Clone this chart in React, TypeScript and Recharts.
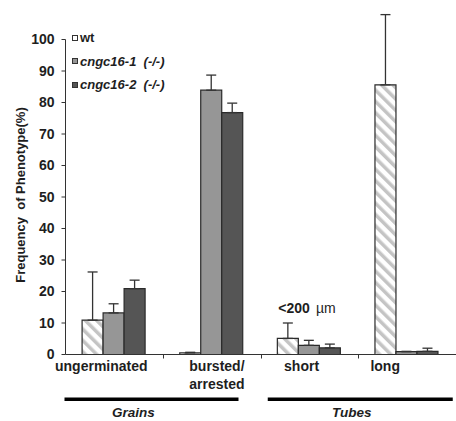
import React from 'react';
import { BarChart, Bar, XAxis, YAxis, ErrorBar, LabelList, Label, Legend, ReferenceLine } from 'recharts';

// values (% of pollen grains / tubes)
const categories = ['ungerminated', 'bursted/\narrested', 'short', 'long'];
const wtValues = [10.9, 0.5, 5.1, 85.6];
const wtErrors = [15.3, 0.2, 4.9, 22.3];
const cngc1Values = [13.2, 83.9, 2.9, 0.9];
const cngc1Errors = [2.9, 4.8, 1.6, 0.1];
const cngc2Values = [20.9, 76.8, 2.1, 1.0];
const cngc2Errors = [2.7, 3.0, 1.2, 1.0];
const notes = ['', '', '<200 µm', ''];
const yTicks = [0, 10, 20, 30, 40, 50, 60, 70, 80, 90, 100];
const seriesNames = ['wt', 'cngc16-1  (-/-)', 'cngc16-2  (-/-)'];
const groupNames = ['Grains', 'Tubes'];
const groupFirst = [0, 2];

const data = categories.map((category, i) => ({
  category,
  wt: wtValues[i],
  wtErr: [0, wtErrors[i]],
  cngc1: cngc1Values[i],
  cngc1Err: [0, cngc1Errors[i]],
  cngc2: cngc2Values[i],
  cngc2Err: [0, cngc2Errors[i]],
  note: notes[i],
}));

const FONT = '"Liberation Sans", Arial, sans-serif';
const INK = '#1e1e1e';
const AXIS = '#333';
const CHART_W = 456;
const CHART_H = 420;
const TOP = 8;
const LEFT = 0.5; // half pixel so the 1px axis lines stay crisp
const X_H = 65.5;
const Y_W = 65;
const BAND = (CHART_W - Y_W - LEFT) / categories.length;
const LABEL_SHIFT = [-13, 5, -8, -22];
const GROUP_SPANS = [
  { x0: -1, x1: 173, label: 68 },
  { x0: 7, x1: 192, label: 91 },
];
const swatches = ['#fff', '#969696', '#555'];

const XTick = (props: any) => {
  const { x, y, payload } = props;
  const idx = payload.index;
  const lines = String(payload.value).split('\n');
  const tx = x + LABEL_SHIFT[idx];
  const g = groupFirst.indexOf(idx);
  const left = x - BAND / 2;
  const edge = Math.round(x + BAND / 2) + 0.5;
  return (
    <g>
      <line x1={edge} x2={edge} y1={y} y2={y + 4} stroke={AXIS} />
      <text x={tx} y={y + 16} textAnchor="middle" fontSize={14} fontWeight="bold" fill={INK} fontFamily={FONT}>
        {lines.map((l, i) => (
          <tspan key={i} x={tx} dy={i === 0 ? 0 : 18}>{l}</tspan>
        ))}
      </text>
      {g >= 0 && (
        <g>
          <rect x={left + GROUP_SPANS[g].x0} y={y + 43} width={GROUP_SPANS[g].x1 - GROUP_SPANS[g].x0} height={3.5} fill="#000" />
          <text x={left + GROUP_SPANS[g].label} y={y + 62.5} textAnchor="middle" fontSize={13.5} fontWeight="bold" fontStyle="italic" fill={INK} fontFamily={FONT}>
            {groupNames[g]}
          </text>
        </g>
      )}
    </g>
  );
};

const renderNote = (props: any) => {
  const { x, y, value } = props;
  if (!value) return null;
  const [num, unit] = String(value).split(' ');
  return (
    <text x={x + 1} y={y - 25} fontSize={14} fill={INK} fontFamily={FONT}>
      <tspan fontWeight="bold">{num}</tspan>
      <tspan dx={6}>{unit}</tspan>
    </text>
  );
};

const renderYLabel = () => {
  const cy = 195;
  return (
    <text x={20} y={cy} transform={`rotate(-90 20 ${cy})`} textAnchor="middle" dominantBaseline="central"
      fontSize={13} fontWeight="bold" fill={INK} fontFamily={FONT} style={{ whiteSpace: 'pre' }}>
      Frequency  of Phenotype(%)
    </text>
  );
};

const renderLegend = () => (
  <div style={{ fontFamily: FONT, fontSize: 13, fontWeight: 'bold', color: INK }}>
    {seriesNames.map((name, i) => (
      <div key={name} style={{ display: 'flex', alignItems: 'center', height: 23.5 }}>
        <span style={{ width: 6, height: 6, boxSizing: 'border-box', border: '1px solid #333', background: swatches[i], marginRight: 2 }} />
        <span style={{ fontStyle: i ? 'italic' : 'normal', whiteSpace: 'pre' }}>{name}</span>
      </div>
    ))}
  </div>
);

export default function App() {
  return (
    <div style={{ width: CHART_W, height: CHART_H, background: '#fff' }}>
      <style>{'body{margin:0;overflow:hidden}'}</style>
      <BarChart width={CHART_W} height={CHART_H} data={data} margin={{ top: TOP, right: 0, bottom: 0, left: LEFT }}
        barGap={0} barCategoryGap="17%">
        <defs>
          <pattern id="hatch" patternUnits="userSpaceOnUse" width="8" height="8" patternTransform="rotate(-45)">
            <rect width="8" height="8" fill="#fff" />
            <rect x="0" y="0" width="3.5" height="8" fill="#c4c4c4" />
          </pattern>
        </defs>
        <XAxis dataKey="category" height={X_H} interval={0} tickLine={false} tickSize={0} tickMargin={0}
          axisLine={{ stroke: AXIS }} tick={<XTick />} />
        <YAxis width={Y_W} domain={[0, 110]} ticks={yTicks} interval={0} axisLine={false}
          tickLine={{ stroke: AXIS }} tickSize={4} tickMargin={7}
          tick={{ fill: INK, fontSize: 14, fontWeight: 'bold', fontFamily: FONT }}>
          <Label content={renderYLabel} />
        </YAxis>
        {/* y axis line, stopping at 100 as in the original */}
        <ReferenceLine segment={[{ x: categories[0], y: 0 }, { x: categories[0], y: 100 }]} position="start"
          stroke={AXIS} strokeWidth={1} ifOverflow="visible" />
        <Legend layout="horizontal" verticalAlign="middle" align="center" content={renderLegend}
          wrapperStyle={{ left: 72, top: 26, width: 200, height: 'auto' }} />
        <Bar dataKey="wt" fill="url(#hatch)" stroke="#2a2a2a" strokeWidth={1.2} isAnimationActive={false}>
          <ErrorBar dataKey="wtErr" width={5} stroke="#333" strokeWidth={1.3} isAnimationActive={false} />
          <LabelList dataKey="note" content={renderNote} />
        </Bar>
        <Bar dataKey="cngc1" fill={swatches[1]} stroke="#2a2a2a" strokeWidth={1.2} isAnimationActive={false}>
          <ErrorBar dataKey="cngc1Err" width={5} stroke="#333" strokeWidth={1.3} isAnimationActive={false} />
        </Bar>
        <Bar dataKey="cngc2" fill={swatches[2]} stroke="#2a2a2a" strokeWidth={1.2} isAnimationActive={false}>
          <ErrorBar dataKey="cngc2Err" width={5} stroke="#333" strokeWidth={1.3} isAnimationActive={false} />
        </Bar>
      </BarChart>
    </div>
  );
}
